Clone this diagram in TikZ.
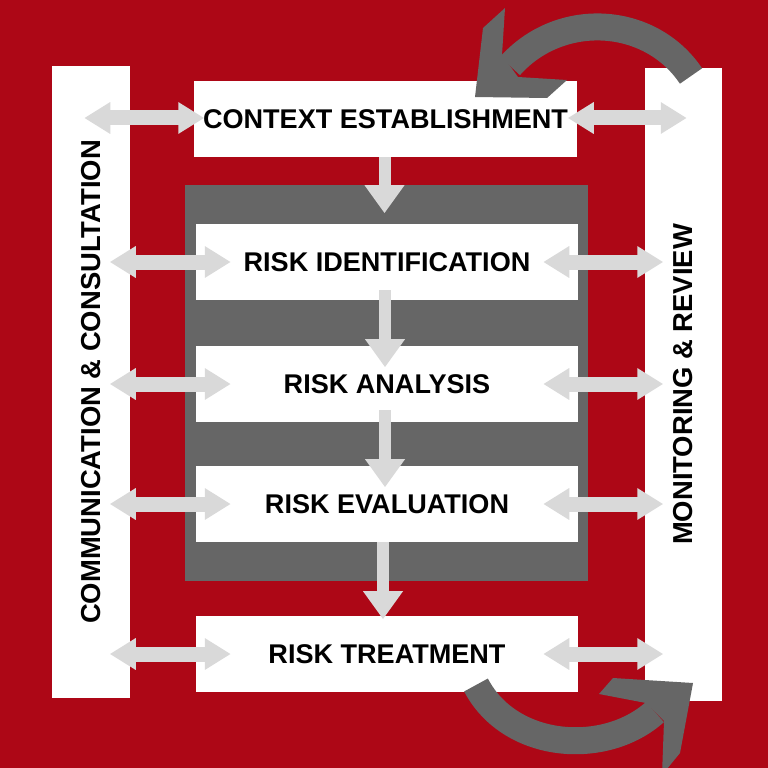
\documentclass[tikz,border=0pt]{standalone}
\usepackage{fontspec}
\setmainfont{Liberation Sans}
\usetikzlibrary{arrows.meta,calc}
\definecolor{riskred}{RGB}{173,7,22}
\definecolor{panelgray}{RGB}{102,102,102}
\definecolor{arrowgray}{RGB}{217,217,217}

\begin{document}
\begin{tikzpicture}[x=0.03cm, y=-0.03cm,
		font=\fontsize{23.4}{27}\selectfont\bfseries,
		stepbox/.style={fill=white, minimum width=11.46cm, minimum height=2.28cm, inner sep=0pt, font=\fontsize{23.1}{27}\selectfont\bfseries},
		sidebar/.style={fill=white, rotate=90, minimum width=18.97cm, minimum height=2.31cm, inner sep=0pt},
		twoway/.style={arrowgray, line width=0.45cm, {Triangle[length=0.78cm, width=0.9cm]}-{Triangle[length=0.78cm, width=0.9cm]}},
		flowdown/.style={arrowgray, line width=0.36cm, -{Triangle[length=0.84cm, width=1.14cm]}},
		cycleband/.style={panelgray, line width=0.81cm}]
		\useasboundingbox (0,0) rectangle (768,768);
		\clip (0,0) rectangle (768,768);
		\fill[riskred] (0,0) rectangle (768,768);

		% Side bars
		\node[sidebar] (comm) at (91,382) {COMMUNICATION \& CONSULTATION};
		\node[sidebar] (mon) at (683,384.5) {MONITORING \& REVIEW};

		% Process steps
		\node[stepbox] (ctx) at (385.5,119) {CONTEXT ESTABLISHMENT};
		\fill[panelgray] (185,185) rectangle (588,581);
		\node[stepbox] (ident) at (387,262) {RISK IDENTIFICATION};
		\node[stepbox] (anal) at (387,384) {RISK ANALYSIS};
		\node[stepbox] (eval) at (387,504) {RISK EVALUATION};
		\node[stepbox] (treat) at (387,654) {RISK TREATMENT};

		% Links to the side bars
		\draw[twoway] ($(ctx.west)+(-110,-1)$) -- ($(ctx.west)+(10,-1)$);
		\draw[twoway] ($(ctx.east)+(-9,-1)$) -- ($(ctx.east)+(110,-1)$);
		\foreach \s in {ident,anal,eval,treat} {
			\draw[twoway] ($(\s.west)+(-86,0)$) -- ($(\s.west)+(35,0)$);
			\draw[twoway] ($(\s.east)+(-35,0)$) -- ($(\s.east)+(85,0)$);
		}

		% Flow between steps
		\draw[flowdown] ($(ctx.south)+(-1,0)$) -- ++(0,56);
		\draw[flowdown] ($(ident.south)+(-2,-10)$) -- ++(0,77);
		\draw[flowdown] ($(anal.south)+(-2,-12)$) -- ++(0,77);
		\draw[flowdown] ($(eval.south)+(-4,0)$) -- ++(0,77);

		% Review loops
		\draw[cycleband] (691,76) .. controls (650,15) and (560,10) .. (510,66);
		\fill[panelgray] (505,8) -- (483,28) -- (475,97) -- (547,98) -- (567,80) -- (518,77) -- (502,55) -- cycle;
		\draw[cycleband] (476,685) .. controls (510,750) and (605,757) .. (655,712);
		\fill[panelgray] (599,694) -- (613,678) -- (693,683) -- (680,753) -- (662,775) -- (664,721) -- (646,703) -- cycle;
	\end{tikzpicture}
\end{document}
